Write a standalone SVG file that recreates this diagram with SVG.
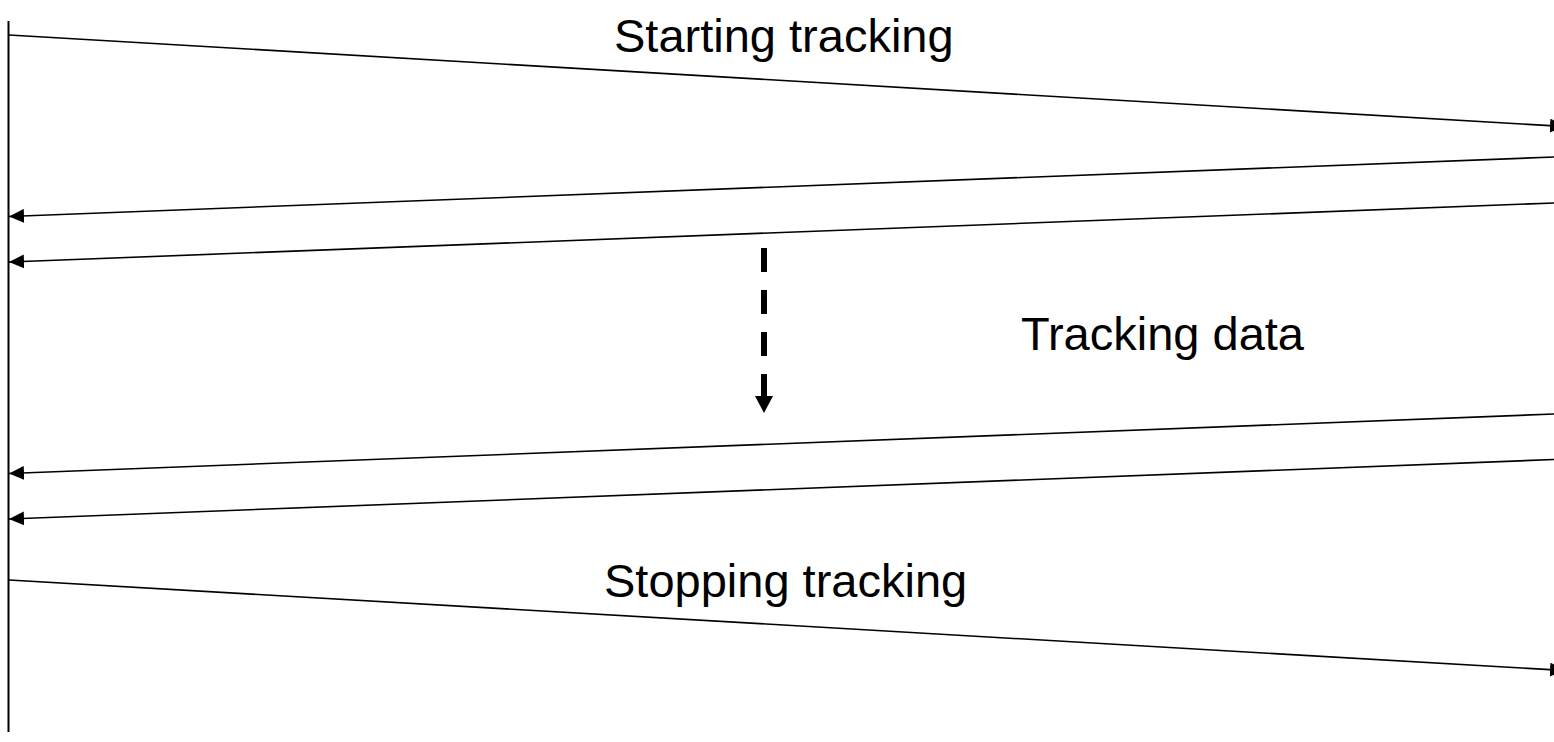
<svg xmlns="http://www.w3.org/2000/svg" width="1554" height="742" viewBox="0 0 1554 742">
<style>
.msg{stroke:#000;stroke-width:1.6;fill:none;marker-end:url(#ah)}
.life{stroke:#000;stroke-width:2;fill:none}
.lbl{font-family:"Liberation Sans",Arial,sans-serif;font-size:47px;fill:#000}
</style>
<defs>
<marker id="ah" markerUnits="userSpaceOnUse" markerWidth="16" markerHeight="14" refX="15" refY="7" orient="auto" viewBox="0 0 16 14">
<path d="M0,0 L15,7 L0,14 Z" fill="#000"/>
</marker>
</defs>
<rect width="1554" height="742" fill="#fff"/>
<g id="lifeline">
<line class="life" x1="8.5" y1="21" x2="8.5" y2="732"/>
</g>
<g id="connectors">
<line class="msg" x1="9" y1="35" x2="1565" y2="126.5"/>
<line class="msg" x1="1554" y1="157" x2="9" y2="216.5"/>
<line class="msg" x1="1554" y1="203" x2="9" y2="262"/>
<line class="msg" x1="1554" y1="414" x2="9" y2="473.5"/>
<line class="msg" x1="1554" y1="459.5" x2="9" y2="519"/>
<line class="msg" x1="9" y1="580" x2="1565" y2="670.5"/>
<g id="data-flow">
<line x1="764" y1="248" x2="764" y2="398" stroke="#000" stroke-width="6" stroke-dasharray="24 18"/>
<polygon points="755,396 773,396 764,413" fill="#000"/>
</g>
</g>
<g id="label-start"><text class="lbl" x="614" y="52">Starting tracking</text></g>
<g id="label-data"><text class="lbl" x="1021" y="350">Tracking data</text></g>
<g id="label-stop"><text class="lbl" x="604" y="597">Stopping tracking</text></g>
</svg>
